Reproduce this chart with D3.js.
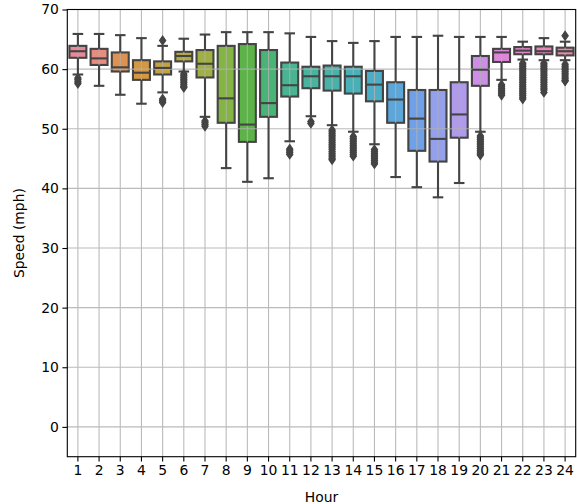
<!DOCTYPE html>
<html>
<head>
<meta charset="utf-8">
<script src="https://cdn.jsdelivr.net/npm/d3@7"></script>
<style>
  html, body { margin: 0; padding: 0; background: #fff; }
  svg { display: block; }
  text { font-family: "DejaVu Sans", sans-serif; }
</style>
</head>
<body>
<svg id="chart" width="577" height="504"></svg>
<script>
// Hourly speed distribution (mph): whisker ends, quartiles and median per hour
const hours      = [1,2,3,4,5,6,7,8,9,10,11,12,13,14,15,16,17,18,19,20,21,22,23,24];
const whiskerLow = [59.1,57.2,55.7,54.2,56.1,59.6,52.0,43.4,41.1,41.7,47.9,52.1,50.6,49.5,47.4,41.9,40.2,38.5,40.9,49.5,58.2,61.6,61.5,61.5];
const q1         = [61.9,60.7,59.6,58.2,59.1,61.3,58.6,51.0,47.8,52.0,55.4,56.8,56.4,55.9,54.6,51.0,46.3,44.5,48.5,57.2,61.2,62.5,62.5,62.3];
const medians    = [63.0,61.8,60.3,59.4,60.2,62.2,60.9,55.1,50.7,54.3,57.3,58.8,58.8,58.8,57.4,54.9,51.7,48.3,52.4,59.9,62.8,63.1,63.0,63.0];
const q3         = [63.9,63.4,62.8,61.5,61.3,62.9,63.2,63.9,64.2,63.2,61.1,60.4,60.6,60.4,59.7,57.8,56.5,56.5,57.8,62.2,63.4,63.7,63.8,63.6];
const whiskerHigh= [65.9,65.9,65.7,65.2,63.9,65.1,65.8,66.2,66.2,66.2,66.0,65.4,64.7,64.4,64.7,65.4,65.4,65.6,65.4,65.4,65.4,64.6,65.2,64.6];

// Outlying observations per hour
const outliers = [
  [58.5,58.2,57.9,57.6],
  [],
  [],
  [],
  [64.8,55.0,54.7,54.4],
  [59.2,58.9,58.6,58.3,58.0,57.7,57.4,57.1,56.9],
  [51.3,51.0,50.7,50.4],
  [],
  [],
  [],
  [46.6,46.3,46.0,45.7],
  [51.2,50.9],
  [49.8,49.5,49.2,48.9,48.6,48.3,48.0,47.7,47.4,47.1,46.8,46.5,46.2,45.9,45.6,45.3,45.0,44.8],
  [48.7,48.4,48.1,47.8,47.5,47.2,46.9,46.6,46.3,46.0,45.7,45.4],
  [46.5,46.2,45.9,45.6,45.3,45.0,44.7,44.4,44.1],
  [],
  [],
  [],
  [],
  [48.8,48.5,48.2,47.9,47.6,47.3,47.0,46.7,46.4,46.1,45.8,45.6],
  [57.4,57.1,56.8,56.5,56.2,55.9,55.6],
  [61.0,60.7,60.4,60.1,59.8,59.5,59.2,58.9,58.6,58.3,58.0,57.7,57.4,57.1,56.8,56.5,56.2,55.9,55.6,55.3,55.0],
  [61.0,60.7,60.4,60.1,59.8,59.5,59.2,58.9,58.6,58.3,58.0,57.7,57.4,57.1,56.8,56.5,56.1],
  [65.6,60.8,60.5,60.2,59.9,59.6,59.3,59.0,58.7,58.4,58.1,58.0]
];

const yTicks = [0,10,20,30,40,50,60,70];

// Box fill colours, one per hour
const boxColors = ["#e9889a","#e88c80","#df9150","#d59842","#c4a242","#b4aa42","#a0b042","#84b444",
                   "#5cb448","#48b476","#48b492","#48b4a0","#48b2aa","#48b0b6","#4caec6","#5ca6da",
                   "#70a0e8","#94a0ec","#b09aec","#ce8ee8","#e086da","#e882c8","#e884b8","#e986a8"];

const svg = d3.select("#chart");
const plotLeft = 67.3, plotRight = 575.7, plotTop = 9.5, plotBottom = 456.7;
const lineGray = "#444444";

const x = d3.scaleBand().domain(hours).range([plotLeft, plotRight]).padding(0);
const y = d3.scaleLinear().domain([-5, 70]).range([plotBottom, plotTop]);
const bw = x.bandwidth() * 0.8;
const cx = h => x(h) + x.bandwidth() / 2;

const rows = hours.map((h, i) => ({
  h, lo: whiskerLow[i], q1: q1[i], med: medians[i], q3: q3[i], hi: whiskerHigh[i],
  fl: outliers[i], color: boxColors[i]
}));

// Boxes (drawn beneath the grid)
svg.append("g").selectAll("rect").data(rows).join("rect")
  .attr("x", d => cx(d.h) - bw / 2)
  .attr("width", bw)
  .attr("y", d => y(d.q3))
  .attr("height", d => y(d.q1) - y(d.q3))
  .attr("fill", d => d.color)
  .attr("stroke", lineGray)
  .attr("stroke-width", 2.1);

// Grid lines
const grid = svg.append("g").attr("stroke", "#b0b0b0").attr("stroke-width", 1.1).attr("opacity", 0.85);
grid.selectAll("line.gx").data(hours).join("line").attr("class", "gx")
  .attr("x1", d => cx(d)).attr("x2", d => cx(d)).attr("y1", plotTop).attr("y2", plotBottom);
grid.selectAll("line.gy").data(yTicks).join("line").attr("class", "gy")
  .attr("x1", plotLeft).attr("x2", plotRight).attr("y1", d => y(d)).attr("y2", d => y(d));

// Whiskers, caps, medians
const lines = svg.append("g").attr("stroke", lineGray).attr("stroke-width", 2.1);
lines.selectAll("line.wl").data(rows).join("line").attr("class", "wl")
  .attr("x1", d => cx(d.h)).attr("x2", d => cx(d.h)).attr("y1", d => y(d.q1)).attr("y2", d => y(d.lo));
lines.selectAll("line.wh").data(rows).join("line").attr("class", "wh")
  .attr("x1", d => cx(d.h)).attr("x2", d => cx(d.h)).attr("y1", d => y(d.q3)).attr("y2", d => y(d.hi));
lines.selectAll("line.cl").data(rows).join("line").attr("class", "cl")
  .attr("stroke-linecap", "square")
  .attr("x1", d => cx(d.h) - bw / 4).attr("x2", d => cx(d.h) + bw / 4).attr("y1", d => y(d.lo)).attr("y2", d => y(d.lo));
lines.selectAll("line.ch").data(rows).join("line").attr("class", "ch")
  .attr("stroke-linecap", "square")
  .attr("x1", d => cx(d.h) - bw / 4).attr("x2", d => cx(d.h) + bw / 4).attr("y1", d => y(d.hi)).attr("y2", d => y(d.hi));
lines.selectAll("line.md").data(rows).join("line").attr("class", "md")
  .attr("x1", d => cx(d.h) - bw / 2).attr("x2", d => cx(d.h) + bw / 2).attr("y1", d => y(d.med)).attr("y2", d => y(d.med));

// Outliers as thin diamonds
const fliers = rows.flatMap(d => d.fl.map(v => ({ h: d.h, v })));
const hw = 3.1, hh = 4.4;
svg.append("g").selectAll("path").data(fliers).join("path")
  .attr("d", d => {
    const px = cx(d.h), py = y(d.v);
    return `M${px},${py - hh}L${px + hw},${py}L${px},${py + hh}L${px - hw},${py}Z`;
  })
  .attr("fill", lineGray)
  .attr("stroke", lineGray)
  .attr("stroke-width", 1.2);

// Axes
const xAxis = d3.axisBottom(x).tickSize(4.9).tickPadding(3.5);
const yAxis = d3.axisLeft(y).tickValues(yTicks).tickSize(4.9).tickPadding(3.5);

const gx = svg.append("g").attr("transform", `translate(0,${plotBottom})`).call(xAxis);
const gy = svg.append("g").attr("transform", `translate(${plotLeft},0)`).call(yAxis);
[gx, gy].forEach(g => {
  g.select(".domain").remove();
  g.selectAll(".tick line").attr("stroke", "#000").attr("stroke-width", 1.1);
  g.selectAll(".tick text").attr("fill", "#000").style("font-size", "13.9px").style("font-family", "DejaVu Sans");
});

// Frame
svg.append("rect")
  .attr("x", plotLeft).attr("y", plotTop).attr("width", plotRight - plotLeft).attr("height", plotBottom - plotTop)
  .attr("fill", "none").attr("stroke", "#000").attr("stroke-width", 1.1);

// Axis titles
svg.append("text")
  .attr("x", (plotLeft + plotRight) / 2).attr("y", 501.5)
  .attr("text-anchor", "middle").style("font-size", "13.9px").attr("fill", "#000")
  .text("Hour");
svg.append("text")
  .attr("transform", `translate(24,${(plotTop + plotBottom) / 2}) rotate(-90)`)
  .attr("text-anchor", "middle").style("font-size", "13.9px").attr("fill", "#000")
  .text("Speed (mph)");
</script>
</body>
</html>
